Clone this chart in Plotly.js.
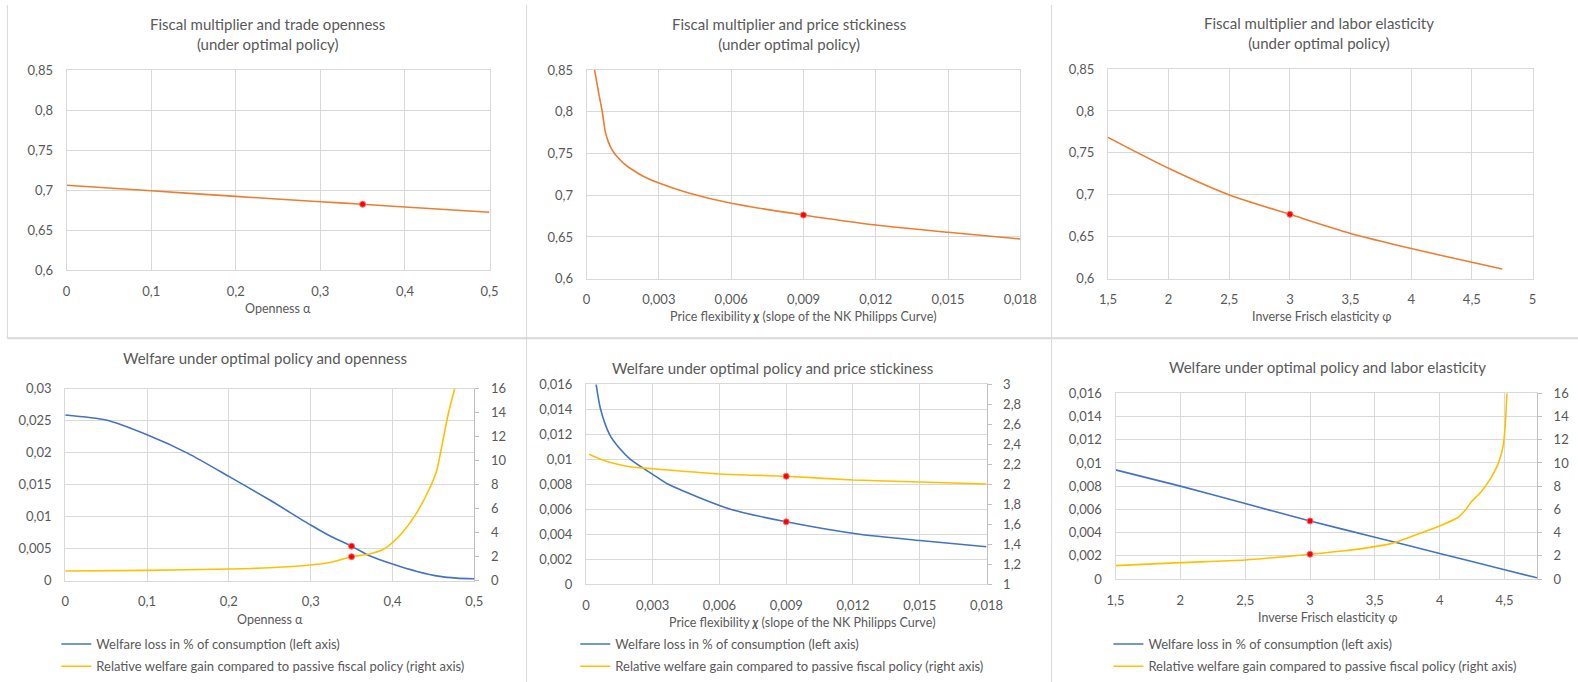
<!DOCTYPE html>
<html>
<head>
<meta charset="utf-8">
<script src="https://cdn.plot.ly/plotly-3.0.1.min.js"></script>
<style>html,body{margin:0;padding:0;background:#fff;}#chart{width:1578px;height:682px;}</style>
</head>
<body>
<div id="chart"></div>
<script>
// ---------- DATA ----------
// Panel 1: fiscal multiplier vs openness
const p1Openness = [0, 0.1, 0.2, 0.3, 0.35, 0.4, 0.5];
const p1Multiplier = [0.706, 0.699, 0.692, 0.6853, 0.6822, 0.6788, 0.6722];
const p1BaseX = [0.35];
const p1BaseY = [0.6822];

// Panel 2: fiscal multiplier vs price flexibility
const p2Chi = [0.00033, 0.00051, 0.00065, 0.00078, 0.00088, 0.00099, 0.00113, 0.00127, 0.00154, 0.00182, 0.00237, 0.003, 0.00427, 0.006, 0.009, 0.012, 0.015, 0.018];
const p2Multiplier = [0.85, 0.821, 0.80, 0.7755, 0.7657, 0.758, 0.7512, 0.746, 0.7382, 0.732, 0.7225, 0.7145, 0.7023, 0.6903, 0.6763, 0.6643, 0.6556, 0.6476];
const p2BaseX = [0.009];
const p2BaseY = [0.6763];

// Panel 3: fiscal multiplier vs inverse Frisch elasticity
const p3Phi = [1.5, 2, 2.5, 3, 3.5, 4, 4.5, 4.75];
const p3Multiplier = [0.7685, 0.7316, 0.6998, 0.6767, 0.654, 0.636, 0.6195, 0.6115];
const p3BaseX = [3];
const p3BaseY = [0.6767];

// Panel 4: welfare vs openness
const p4LossX = [0, 0.05, 0.1, 0.15, 0.2, 0.25, 0.3, 0.325, 0.35, 0.372, 0.4, 0.43, 0.458, 0.478, 0.5];
const p4Loss = [0.0259, 0.0251, 0.0228, 0.0199, 0.0163, 0.0126, 0.0087, 0.0069, 0.0054, 0.0039, 0.0026, 0.00145, 0.00067, 0.00041, 0.00031];
const p4GainX = [0, 0.1, 0.2, 0.25, 0.3, 0.3233, 0.35, 0.372, 0.389, 0.4, 0.413, 0.429, 0.446, 0.454, 0.46, 0.468, 0.476];
const p4Gain = [0.81, 0.86, 0.97, 1.08, 1.31, 1.51, 2.0, 2.23, 2.62, 3.17, 4.08, 5.59, 7.79, 9.17, 11.1, 13.85, 16.0];
const p4BaseX = [0.35];
const p4BaseLoss = [0.0054];
const p4BaseGain = [2.0];

// Panel 5: welfare vs price flexibility
const p5LossX = [0.00046, 0.00066, 0.00106, 0.0015, 0.002, 0.003, 0.0037, 0.0065, 0.009, 0.0123, 0.015, 0.018];
const p5Loss = [0.016, 0.014, 0.012, 0.0109, 0.010, 0.0088, 0.008, 0.006, 0.0050, 0.0040, 0.0035, 0.0030];
const p5GainX = [0.00015, 0.00063, 0.00124, 0.00199, 0.003, 0.00606, 0.009, 0.012, 0.015, 0.018];
const p5Gain = [2.30, 2.253, 2.21, 2.176, 2.155, 2.103, 2.08, 2.043, 2.023, 2.003];
const p5BaseX = [0.009];
const p5BaseLoss = [0.0050];
const p5BaseGain = [2.08];

// Panel 6: welfare vs inverse Frisch elasticity
const p6LossX = [1.5, 2, 2.5, 3, 3.5, 4, 4.5, 4.75];
const p6Loss = [0.0094, 0.0080, 0.0065, 0.0050, 0.0036, 0.0022, 0.0008, 0.0001];
const p6GainX = [1.5, 2, 2.5, 3, 3.25, 3.5, 3.63, 3.86, 4.0, 4.14, 4.2, 4.24, 4.32, 4.39, 4.45, 4.49, 4.505, 4.518];
const p6Gain = [1.15, 1.41, 1.64, 2.13, 2.41, 2.79, 3.07, 3.99, 4.57, 5.30, 5.96, 6.60, 7.52, 8.62, 9.92, 11.52, 13.25, 16.0];
const p6BaseX = [3];
const p6BaseLoss = [0.0050];
const p6BaseGain = [2.13];

// Text
const topTitles = [
  'Fiscal multiplier and trade openness<br>(under optimal policy)',
  'Fiscal multiplier and price stickiness<br>(under optimal policy)',
  'Fiscal multiplier and labor elasticity<br>(under optimal policy)'
];
const bottomTitles = [
  'Welfare under optimal policy and openness',
  'Welfare under optimal policy and price stickiness',
  'Welfare under optimal policy and labor elasticity'
];
const xTitles = ['Openness α', 'Price flexibility <b><i>χ</i></b> (slope of the NK Philipps Curve)', 'Inverse Frisch elasticity φ'];
const lossName = 'Welfare loss in % of consumption (left axis)';
const gainName = 'Relative welfare gain compared to passive fiscal policy (right axis)';

// ---------- STYLE / LAYOUT ----------
const W = 1578, H = 682;
const FONT = 'Lato, "Open Sans", sans-serif';
const TXT = '#595959';
const ORANGE = '#ED7D31', BLUE = '#4472C4', GOLD = '#FFC000', RED = '#FF0000';
const GRID = '#D9D9D9';
const TICK = 13, AXT = 12.5, TITLE = 15, LEG = 13;
const px = v => v / W;
const py = v => 1 - v / H;

// plot areas in pixels [left, right, top, bottom]
const boxes = [
  [66.6, 489.5, 70, 270],
  [586.6, 1020.3, 70, 278.7],
  [1108, 1532.5, 69, 278.7],
  [65.2, 474.3, 388.7, 580.7],
  [585.9, 986.5, 384.3, 584.3],
  [1115.5, 1537, 393.3, 579]
];
const dom = b => ({x: [px(b[0]), px(b[1])], y: [py(b[3]), py(b[2])]});

function xax(i, range, dtick, tick0) {
  const d = dom(boxes[i]);
  return {domain: d.x, anchor: i === 0 ? 'y' : 'y' + (i + 1), range: range, dtick: dtick, tick0: tick0,
    showgrid: true, gridcolor: GRID, gridwidth: 1, zeroline: false, showline: true, linecolor: GRID,
    mirror: true, ticks: '', ticklabelstandoff: 9, tickfont: {family: FONT, size: TICK, color: TXT}, fixedrange: true};
}
function yax(i, range, dtick) {
  const d = dom(boxes[i]);
  return {domain: d.y, anchor: i === 0 ? 'x' : 'x' + (i + 1), range: range, dtick: dtick,
    showgrid: true, gridcolor: GRID, gridwidth: 1, zeroline: false, showline: true, linecolor: GRID,
    mirror: true, ticks: '', ticklabelstandoff: 10, tickfont: {family: FONT, size: TICK, color: TXT}, fixedrange: true};
}
function yright(i, range, dtick) {
  return {overlaying: 'y' + (i + 1), anchor: 'x' + (i + 1), side: 'right', range: range, dtick: dtick,
    showgrid: false, zeroline: false, showline: true, linecolor: '#BFBFBF', ticks: 'outside', ticklen: 4,
    tickcolor: '#BFBFBF', ticklabelstandoff: 9, tickfont: {family: FONT, size: TICK, color: TXT}, fixedrange: true};
}

const lineT = (x, y, xa, ya, color, name, extra) => Object.assign({type: 'scatter', mode: 'lines', x: x, y: y, xaxis: xa, yaxis: ya,
  name: name, line: {color: color, width: 1.6, shape: 'spline', smoothing: 0.7}, hoverinfo: 'x+y'}, extra || {});
const dotT = (x, y, xa, ya) => ({type: 'scatter', mode: 'markers', x: x, y: y, xaxis: xa, yaxis: ya, showlegend: false,
  marker: {color: RED, size: 6, line: {color: '#FF6A6A', width: 1}}, hoverinfo: 'x+y', cliponaxis: false});

const data = [
  lineT(p1Openness, p1Multiplier, 'x', 'y', ORANGE, 'Fiscal multiplier', {showlegend: false}),
  dotT(p1BaseX, p1BaseY, 'x', 'y'),
  lineT(p2Chi, p2Multiplier, 'x2', 'y2', ORANGE, 'Fiscal multiplier', {showlegend: false}),
  dotT(p2BaseX, p2BaseY, 'x2', 'y2'),
  lineT(p3Phi, p3Multiplier, 'x3', 'y3', ORANGE, 'Fiscal multiplier', {showlegend: false}),
  dotT(p3BaseX, p3BaseY, 'x3', 'y3'),

  lineT(p4LossX, p4Loss, 'x4', 'y4', BLUE, lossName, {legend: 'legend', legendgroup: 'a4'}),
  lineT(p4GainX, p4Gain, 'x4', 'y7', GOLD, gainName, {legend: 'legend', legendgroup: 'b4'}),
  dotT(p4BaseX, p4BaseLoss, 'x4', 'y4'),
  dotT(p4BaseX, p4BaseGain, 'x4', 'y7'),

  lineT(p5LossX, p5Loss, 'x5', 'y5', BLUE, lossName, {legend: 'legend2', legendgroup: 'a5'}),
  lineT(p5GainX, p5Gain, 'x5', 'y8', GOLD, gainName, {legend: 'legend2', legendgroup: 'b5'}),
  dotT(p5BaseX, p5BaseLoss, 'x5', 'y5'),
  dotT(p5BaseX, p5BaseGain, 'x5', 'y8'),

  lineT(p6LossX, p6Loss, 'x6', 'y6', BLUE, lossName, {legend: 'legend3', legendgroup: 'a6'}),
  lineT(p6GainX, p6Gain, 'x6', 'y9', GOLD, gainName, {legend: 'legend3', legendgroup: 'b6'}),
  dotT(p6BaseX, p6BaseLoss, 'x6', 'y6'),
  dotT(p6BaseX, p6BaseGain, 'x6', 'y9')
];

// legend placed by its first text row centre (cy) and text start (tx); kept inside the figure
function legendAt(tx, cy) {
  return {x: px(tx - 40), y: py(cy - 15), xanchor: 'left', yanchor: 'top',
    orientation: 'v', traceorder: 'grouped', tracegroupgap: 2.4, bgcolor: 'rgba(0,0,0,0)', borderwidth: 0, itemwidth: 30,
    font: {family: FONT, size: LEG, color: TXT}, itemclick: false, itemdoubleclick: false};
}

const ann = (text, x, y, size, extra) => Object.assign({text: text, xref: 'paper', yref: 'paper', x: px(x), y: py(y),
  xanchor: 'center', yanchor: 'middle', showarrow: false, font: {family: FONT, size: size, color: TXT}}, extra || {});

const annotations = [
  ann(topTitles[0], 267, 34, TITLE),
  ann(topTitles[1], 789, 34, TITLE),
  ann(topTitles[2], 1319, 33.5, TITLE),
  ann(bottomTitles[0], 265, 358.3, TITLE),
  ann(bottomTitles[1], 772, 368.3, TITLE),
  ann(bottomTitles[2], 1327, 366.7, TITLE),
  ann(xTitles[0], 278, 308.3, AXT),
  ann(xTitles[1], 803.8, 316, AXT),
  ann(xTitles[2], 1321, 316, AXT),
  ann(xTitles[0], 270, 619.3, AXT),
  ann(xTitles[1], 802.8, 622.7, AXT),
  ann(xTitles[2], 1327, 617.3, AXT)
];

const borderColor = '#D9D9D9';
const seg = (x0, y0, x1, y1, w) => ({type: 'line', xref: 'paper', yref: 'paper', x0: px(x0), y0: py(y0), x1: px(x1), y1: py(y1),
  line: {color: borderColor, width: w || 1}, layer: 'below'});
const shapes = [
  seg(7.4, 5, 7.4, 338.3),
  seg(526.6, 5, 526.6, 682),
  seg(1051.6, 5, 1051.6, 682),
  seg(7.4, 338.3, 1578, 338.3, 2)
];

const layout = {
  width: W, height: H,
  margin: {l: 0, r: 0, t: 0, b: 0, pad: 0},
  paper_bgcolor: '#FFFFFF', plot_bgcolor: 'rgba(0,0,0,0)',
  separators: ',.',
  font: {family: FONT, color: TXT},
  showlegend: true,
  xaxis: xax(0, [0, 0.5], 0.1, 0),
  yaxis: yax(0, [0.6, 0.85], 0.05),
  xaxis2: xax(1, [0, 0.018], 0.003, 0),
  yaxis2: yax(1, [0.6, 0.85], 0.05),
  xaxis3: xax(2, [1.5, 5], 0.5, 1.5),
  yaxis3: yax(2, [0.6, 0.85], 0.05),
  xaxis4: xax(3, [0, 0.5], 0.1, 0),
  yaxis4: yax(3, [0, 0.03], 0.005),
  xaxis5: xax(4, [0, 0.018], 0.003, 0),
  yaxis5: yax(4, [0, 0.016], 0.002),
  xaxis6: xax(5, [1.5, 4.75], 0.5, 1.5),
  yaxis6: yax(5, [0, 0.016], 0.002),
  yaxis7: yright(3, [0, 16], 2),
  yaxis8: yright(4, [1, 3], 0.2),
  yaxis9: yright(5, [0, 16], 2),
  legend: legendAt(96.3, 644),
  legend2: legendAt(615.3, 644),
  legend3: legendAt(1148.4, 644),
  annotations: annotations,
  shapes: shapes
};

Plotly.newPlot('chart', data, layout, {displayModeBar: false, staticPlot: true});
</script>
</body>
</html>
